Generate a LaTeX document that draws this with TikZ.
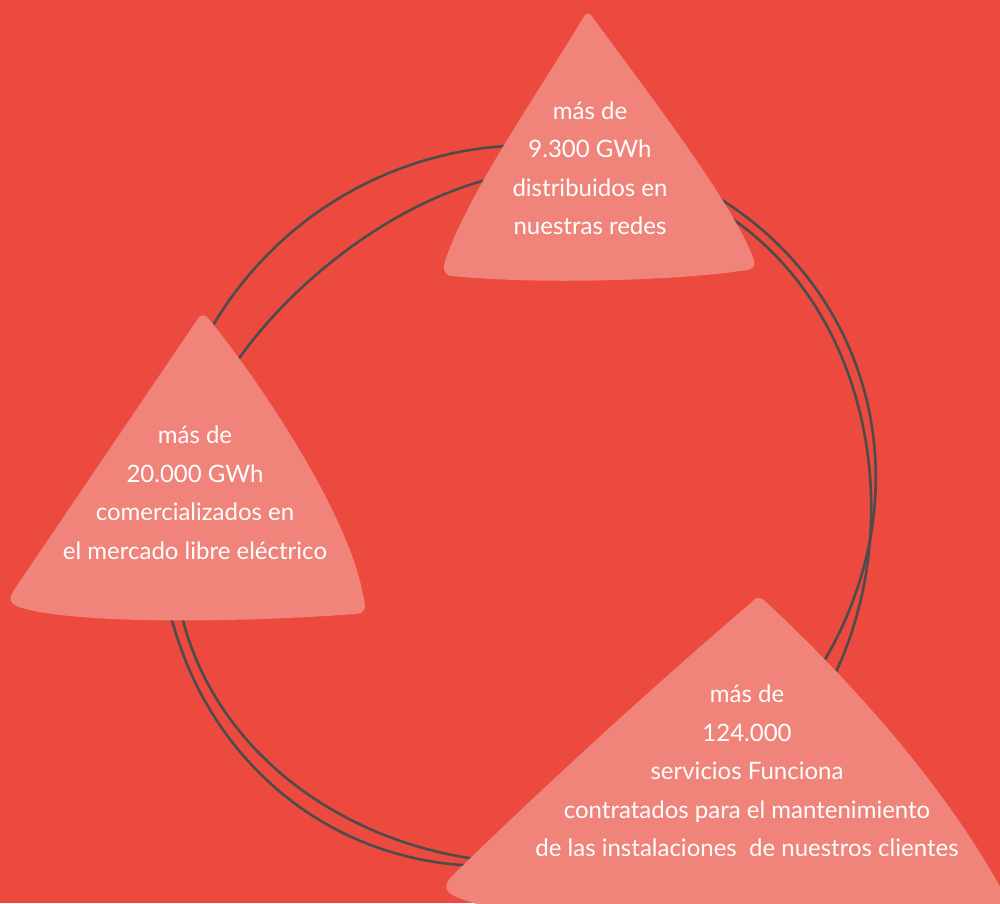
\documentclass[tikz,border=0pt]{standalone}
\usepackage{fontspec}
\setmainfont{Lato}
\definecolor{bgred}{RGB}{236,74,63}
\definecolor{petal}{RGB}{240,132,122}
\definecolor{ring}{RGB}{78,76,75}
\begin{document}
\begin{tikzpicture}[x=1pt,y=-1pt,
  declare function={
    ra(\t)=358.6+5.45*cos(\t)-0.46*sin(\t)-1.0*cos(2*\t)+11.4*sin(2*\t)
           +2.75*cos(3*\t)+1.92*sin(3*\t);
    rb(\t)=346.6+5.75*cos(\t)-6.05*sin(\t)+1.1*cos(2*\t)+11.66*sin(2*\t)
           -7.28*cos(3*\t)-3.83*sin(3*\t);},
  ringline/.style={draw=ring,line width=2.6pt},
  blob/.style={fill=petal},
  figtext/.style={text=white,align=center,inner sep=0pt,
    font=\fontsize{24}{38.5}\selectfont}]
\useasboundingbox (0,0) rectangle (1000,903);
\fill[bgred] (0,0) rectangle (1000,903);
\clip (0,0) rectangle (1000,903);

% the two slightly offset rings
\draw[ringline] plot[domain=0:358,samples=180,smooth cycle]
  ({509+ra(\x)*cos(\x)},{503-ra(\x)*sin(\x)});
\draw[ringline] plot[domain=0:358,samples=180,smooth cycle]
  ({525+rb(\x)*cos(\x)},{515-rb(\x)*sin(\x)});

% top petal
\fill[blob] (583,18) .. controls (586,12) and (590,12) .. (593,18)
  .. controls (650,95) and (730,200) .. (752,255)
  .. controls (758,268) and (752,270) .. (740,271)
  .. controls (680,280) and (540,285) .. (452,276)
  .. controls (442,275) and (443,266) .. (446,258)
  .. controls (470,190) and (540,90) .. (583,18) -- cycle;

% left petal
\fill[blob] (197,320) .. controls (200,314) and (205,314) .. (209,319)
  .. controls (270,395) and (350,520) .. (363,595)
  .. controls (367,610) and (365,613) .. (355,614)
  .. controls (250,622) and (80,625) .. (22,608)
  .. controls (8,604) and (9,598) .. (14,590)
  -- (197,320) -- cycle;

% bottom petal
\fill[blob] (752,602) .. controls (756,596) and (762,597) .. (766,602)
  .. controls (850,680) and (950,790) .. (1010,905)
  -- (1010,915) -- (520,915)
  .. controls (480,905) and (450,898) .. (447,890)
  .. controls (445,884) and (448,880) .. (453,875)
  .. controls (540,790) and (660,680) .. (752,602) -- cycle;

\node[figtext] (topnote) at (590,168.5)
  {más de\\9.300 GWh\\distribuidos en\\nuestras redes};
\node[figtext] (leftnote) at (195,492.5)
  {más de\\20.000 GWh\\comercializados en\\el mercado libre eléctrico};
\node[figtext] (bottomnote) at (747,771)
  {más de\\124.000\\servicios Funciona\\contratados para el mantenimiento\\de las instalaciones~ de nuestros clientes};
\end{tikzpicture}
\end{document}
